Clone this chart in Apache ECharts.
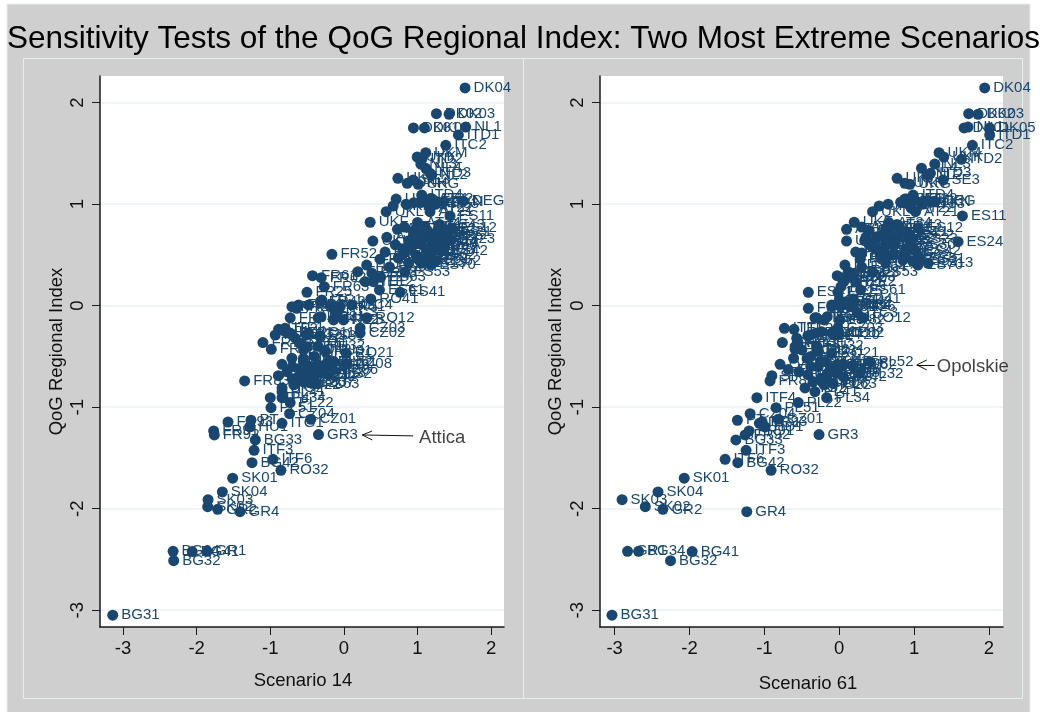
<!DOCTYPE html>
<html><head><meta charset="utf-8">
<script src="https://cdn.jsdelivr.net/npm/echarts@6/dist/echarts.min.js"></script>
<style>html,body{margin:0;padding:0;background:#fff}#c{width:1040px;height:712px}</style></head>
<body><div id="c"></div>
<script>
const chartTitle = 'Sensitivity Tests of the QoG Regional Index: Two Most Extreme Scenarios';
const xTicks = [-3,-2,-1,0,1,2];
const yTicks = [-3,-2,-1,0,1,2];
const regionCodes = [
 'DK04','DK02','DK03','DK01','DK05',
 'NL1','NL2','NL3','NL4',
 'ITD1','ITD2','ITD3','ITD4','ITD5',
 'ITC1','ITC2','ITC3','ITC4','ITE1','ITE2','ITE3','ITE4',
 'ITF1','ITF2','ITF3','ITF4','ITF5','ITF6','ITG1','ITG2',
 'UKC','UKD','UKE','UKF','UKG','UKH','UKI','UKJ','UKK','UKL','UKM','UKN',
 'SE1','SE2','SE3',
 'AT11','AT12','AT13','AT21','AT22','AT31','AT32','AT33','AT34',
 'DE1','DE2','DE3','DE4','DE5','DE6','DE7','DE8','DE9','DEA','DEB','DEC','DED','DEE','DEF','DEG',
 'BE1','BE2','IE',
 'ES11','ES12','ES13','ES21','ES22','ES23','ES24','ES30','ES41','ES42','ES43','ES51','ES52','ES53','ES61','ES62','ES70',
 'FR10','FR21','FR22','FR23','FR24','FR25','FR26','FR30','FR41','FR42','FR43','FR51','FR52',
 'FR53','FR61','FR62','FR63','FR71','FR72','FR81','FR82','FR83','FR91','FR92','FR93','FR94',
 'PT','HU1','HU2','HU3',
 'PL11','PL12','PL21','PL22','PL31','PL32','PL33','PL34','PL41','PL42','PL43','PL51','PL52','PL61','PL62','PL63',
 'RO11','RO12','RO21','RO22','RO31','RO32','RO41','RO42',
 'CZ01','CZ02','CZ03','CZ04','CZ05','CZ06','CZ07','CZ08',
 'SK01','SK02','SK03','SK04',
 'BG31','BG32','BG33','BG34','BG41','BG42',
 'GR1','GR2','GR3','GR4',
 'SI','LT','LV','EE',
 'PT11','PT15','PT16','PT17','PT18','PT20','PT30','HU21','HU22','HU23','HU31','HU32',
 'BE3','FI1','FI2','LU','CY','MT','ES63','ES64','ES31','ES32'
];
const qogIndex = [
 2.145,1.892,1.886,1.751,1.751,
 1.76,1.288,1.396,1.354,
 1.682,1.442,1.304,1.09,.40,
 .056,1.58,-.07,.007,.236,.236,-.14,-.12,
 -.223,-.233,-1.425,-.906,-.404,-1.514,-1.159,-.81,
 1.05,.982,1.0,.822,1.196,1.206,.637,1.255,1.465,.926,1.507,1.025,
 1.05,.667,1.238,
 .752,.775,.674,.926,.962,1.015,1.05,1.0,.82,
 .78,.76,.74,.72,.70,.69,.67,.64,.62,.60,.58,.56,.55,.52,.50,1.03,
 .60,1.02,.47,
 .884,.766,.418,.73,.70,.66,.631,.60,.132,.54,.80,.46,.44,.33,.155,.50,.40,
 .458,.528,.335,.32,.47,.132,-.01,.007,.007,.04,.0,-.01,.506,
 -.026,.296,.276,.187,-.364,-.43,-.108,-.14,-.742,-1.234,-1.274,-1.146,-.12,
 -1.129,-1.195,-.65,-.518,
 -.256,-.289,-.27,-.955,-.70,-.667,-.75,-.906,-.847,-.70,-.617,-1.005,-.552,-.55,-.585,-.767,
 -.27,-.118,-.469,-.32,-.37,-1.622,.066,-.436,
 -1.119,-.27,-.22,-1.064,-.67,-.634,-.759,-.575,
 -1.70,-1.98,-1.911,-1.835,
 -3.05,-2.513,-1.323,-2.42,-2.423,-1.547,
 -2.42,-2.007,-1.27,-2.03,
 -.69,-.52,-.578,-.63,
 -.55,-.60,-.58,-.62,-.66,-.289,-.72,-.68,-.78,-.50,-.45,-.40,
 .63,.52,.45,.56,.42,.68,.28,.38,-.30,-.60
];
const scenario14 = [
 1.646,1.257,1.429,.945,1.094,
 1.655,1.194,1.045,1.112,
 1.555,1.058,1.171,1.058,.31,
 -.30,1.384,-.095,.108,.29,.40,-.005,-.35,
 -.80,-.887,-1.22,-1.0,-.495,-.963,-.841,-.84,
 .71,.67,.845,.357,1.01,.86,.394,.733,.996,.574,1.112,1.352,
 1.2,1.05,.94,
 .727,.82,.583,1.17,1.17,.95,1.17,1.25,1.0,
 1.10,1.28,.95,1.15,1.02,1.38,1.22,.88,1.05,1.32,.92,1.12,1.25,.82,.98,1.623,
 .70,1.06,.74,
 1.442,1.465,1.05,1.40,1.34,1.44,1.21,1.20,.764,1.34,1.30,1.10,1.25,.83,.483,1.18,1.18,
 .49,.56,.19,.38,.74,-.502,-.706,-.616,-.48,-.32,-.186,-.05,-.163,
 -.64,-.426,-.308,-.267,-1.1,-.986,-.32,-.14,-1.348,-1.769,-1.76,-1.574,-.729,
 -1.262,-1.28,-.773,-.706,
 -.797,-.932,-.729,-.73,-.62,-.21,-.55,-.84,-.84,-.42,-.50,-.99,-.2,-.14,-.345,-.38,
 -.48,.312,.031,-.66,-.6,-.855,.366,-.548,
 -.448,.221,.221,-.738,-.40,-.15,-.47,.04,
 -1.511,-1.85,-1.845,-1.651,
 -3.14,-2.312,-1.203,-2.32,-2.06,-1.248,
 -1.858,-1.715,-.345,-1.411,
 -.89,-.55,-.841,-.32,
 -.55,-.45,-.25,-.60,-.30,-.51,-.70,-.55,-.68,-.40,-.25,-.35,
 1.0,1.15,1.02,.80,.88,.95,.50,.62,-.33,-.70
];
const scenario61 = [
 1.943,1.729,1.854,1.667,2.009,
 1.72,1.174,1.276,1.098,
 2.009,1.632,1.218,.987,.076,
 .0,1.778,.24,.15,.06,.22,-.20,-.30,
 -.733,-.604,-1.244,-1.10,-.59,-1.524,-1.067,-.457,
 .876,.533,.653,.2,.943,.876,.098,.773,1.396,.445,1.333,1.22,
 .90,.773,1.387,
 .098,.30,.356,1.019,.96,.88,1.0,1.1,.66,
 .72,.62,.40,.82,.58,.67,.50,.34,.62,.74,.44,.90,.60,.30,.72,1.276,
 .40,.82,.62,
 1.645,1.05,1.187,.86,.93,.98,1.587,.95,-.413,1.02,.77,1.08,.98,.45,.285,.876,1.05,
 .28,.22,.12,.20,.55,-.017,.15,-.10,.05,.10,.0,-.10,.298,
 -.413,-.027,.03,.023,-.76,-.59,-.16,.01,-.924,-1.204,-1.257,-1.03,-.324,
 -1.36,-.99,-.54,-.61,
 -.235,-.39,-.31,-.547,-.17,.275,-.35,-.168,-.324,.053,-.10,-.844,.41,-.19,.187,-.08,
 -.10,.32,-.10,-.568,-.55,-.91,.187,-.50,
 -.813,.0,-.017,-1.19,-.16,-.05,-.22,.05,
 -2.07,-2.59,-2.90,-2.42,
 -3.035,-2.253,-1.38,-2.68,-1.964,-1.355,
 -2.827,-2.355,-.27,-1.235,
 -.90,-.43,-.79,-.68,
 -.25,-.28,-.02,-.12,-.05,-.05,-.25,-.42,-.20,-.38,-.28,-.30,
 .45,.55,.85,.50,.62,.50,.15,.30,-.42,-.38
];
const annotationLeft = {text:'Attica', at:[1.022,-1.303], tip:[.25,-1.274], tail:[.94,-1.283], barbA:[.384,-1.235], barbB:[.384,-1.323]};
const annotationRight = {text:'Opolskie', at:[1.303,-.604], tip:[1.036,-.584], tail:[1.276,-.584], barbA:[1.169,-.535], barbB:[1.169,-.633]};

const navy = '#1a476f', grey = '#cfcfcf', edge = '#e6eeee', ink = '#111';
const font = '"Liberation Sans", Arial, sans-serif';

function xAxis(idx, min, max, name, gap, pad){
  return {gridIndex:idx, type:'value', min, max, name, nameLocation:'middle', nameGap:gap,
    nameTextStyle:{fontFamily:font,fontSize:18.5,color:ink,padding:[0,0,0,pad]},
    axisLine:{show:true,onZero:false,lineStyle:{color:'#1a1a1a',width:1.5}},
    axisTick:{show:true,length:8,customValues:xTicks,lineStyle:{color:'#1a1a1a',width:1}},
    axisLabel:{customValues:xTicks,fontFamily:font,fontSize:18.5,color:ink,margin:12,hideOverlap:false,showMinLabel:true,showMaxLabel:true},
    splitLine:{show:false}};
}
function yAxis(idx, gap){
  return {gridIndex:idx, type:'value', min:-3.166, max:2.263, name:'QoG Regional Index', nameLocation:'middle', nameGap:gap,
    nameRotate:90, nameTextStyle:{fontFamily:font,fontSize:18.5,color:ink},
    axisLine:{show:true,onZero:false,lineStyle:{color:'#1a1a1a',width:1.5}},
    axisTick:{show:true,length:8,customValues:yTicks,lineStyle:{color:'#1a1a1a',width:1}},
    axisLabel:{customValues:yTicks,rotate:90,fontFamily:font,fontSize:18.5,color:ink,margin:13,hideOverlap:false},
    splitLine:{show:true,lineStyle:{color:'#eaf2f3',width:1.5}}};
}
function pointSeries(idx, xs){
  return {type:'scatter', xAxisIndex:idx, yAxisIndex:idx, symbol:'circle', symbolSize:11,
    itemStyle:{color:navy,opacity:1}, clip:false,
    data:regionCodes.map((c,i)=>[xs[i],qogIndex[i],c]),
    label:{show:true,position:'right',distance:3,formatter:p=>p.value[2],fontFamily:font,fontSize:15,color:navy}};
}
function noteSeries(idx, a){
  return {type:'scatter', xAxisIndex:idx, yAxisIndex:idx, symbol:'circle', symbolSize:0, silent:true,
    data:[[a.at[0],a.at[1],a.text]],
    label:{show:true,position:'right',distance:0,formatter:p=>p.value[2],fontFamily:font,fontSize:18.5,color:ink},
    markLine:{silent:true,symbol:'none',animation:false,label:{show:false},lineStyle:{color:'#111',width:1,type:'solid'},
      data:[[{coord:a.tail},{coord:a.tip}],[{coord:a.barbA},{coord:a.tip}],[{coord:a.barbB},{coord:a.tip}]]}};
}
const chart = echarts.init(document.getElementById('c'),null,{renderer:'canvas'});
chart.setOption({
  animation:false, backgroundColor:'#fff',
  title:{text:chartTitle,left:7,top:23,padding:0,textStyle:{fontFamily:font,fontSize:31.5,fontWeight:'normal',color:'#000'}},
  graphic:[
    {type:'rect',z:-10,shape:{x:7,y:4,width:1023,height:720},style:{fill:grey,stroke:edge,lineWidth:1}},
    {type:'rect',z:-9,shape:{x:23.5,y:58.5,width:500,height:640},style:{fill:grey,stroke:edge,lineWidth:1}},
    {type:'rect',z:-9,shape:{x:523.5,y:58.5,width:499,height:640},style:{fill:grey,stroke:edge,lineWidth:1}}
  ],
  grid:[
    {left:100,right:536,top:76,bottom:85,show:true,backgroundColor:'#fff',borderWidth:0},
    {left:600,right:37,top:76,bottom:85,show:true,backgroundColor:'#fff',borderWidth:0}
  ],
  xAxis:[xAxis(0,-3.313,2.175,'Scenario 14',44,2),xAxis(1,-3.195,2.187,'Scenario 61',47,13)],
  yAxis:[yAxis(0,34),yAxis(1,35)],
  series:[pointSeries(0,scenario14),pointSeries(1,scenario61),noteSeries(0,annotationLeft),noteSeries(1,annotationRight)]
});
</script></body></html>
